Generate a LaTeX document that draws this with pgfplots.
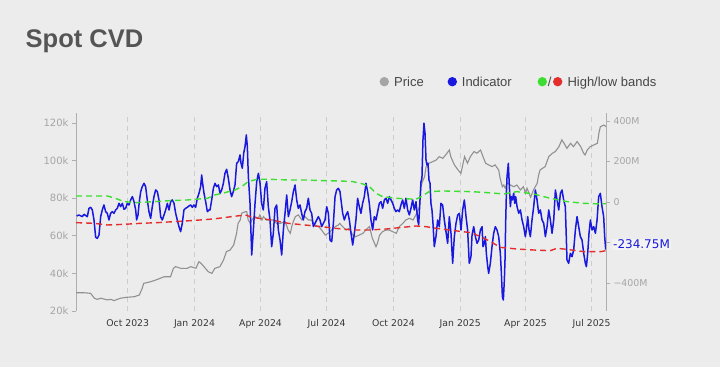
\documentclass[border=0pt]{standalone}
\usepackage{pgfplots}
\pgfplotsset{compat=1.18}
\usepackage{fontspec}
\setmainfont{Liberation Sans}
\newfontfamily\dejavu{DejaVu Sans}
\definecolor{bg}{RGB}{236,236,236}
\definecolor{pricegray}{RGB}{145,145,145}
\definecolor{legray}{RGB}{165,165,165}
\definecolor{indblue}{RGB}{24,24,222}
\definecolor{bandgreen}{RGB}{60,222,50}
\definecolor{bandred}{RGB}{228,45,45}
\definecolor{ticklab}{RGB}{165,165,165}
\definecolor{xlab}{RGB}{55,55,55}
\definecolor{titlec}{RGB}{85,85,85}
\definecolor{legtext}{RGB}{70,70,70}
\definecolor{gridc}{RGB}{205,205,205}
\definecolor{axc}{RGB}{175,175,175}

\pgfplotstableread{
d v
-71 29.7
-60 29.7
-51 29.4
-46 26.8
-42 26.2
-37 26.8
-28 25.9
-23 26.2
-19 25.5
-10 26.8
-1 27.3
9 27.6
16 28.5
20 32.1
22 34.7
32 35.6
41 36.8
50 38.2
59 38.2
63 42.7
66 43.6
73 42.7
82 42.7
87 43.6
94 42.7
98 46.2
101 45.4
105 43.6
111 40.9
116 40.0
120 42.7
127 43.6
132 47.1
136 51.6
141 52.4
146 55.1
150 61.3
152 66.6
155 68.4
157 72.0
162 72.8
164 72.8
166 68.4
169 66.6
171 68.4
175 70.2
180 69.3
182 71.1
185 68.4
187 70.2
191 68.4
196 68.4
201 68.4
205 66.6
210 66.6
217 67.5
221 63.1
224 61.3
226 64.9
228 67.5
231 70.2
235 71.1
240 68.4
244 70.2
249 68.4
253 68.4
258 65.7
263 64.9
267 63.1
272 60.4
276 61.3
281 63.1
286 64.9
290 65.7
292 66.6
296 64.9
301 63.1
305 64.0
310 60.4
314 59.5
319 60.4
324 61.3
328 63.1
333 64.9
337 58.7
342 54.2
344 56.0
347 60.4
351 62.2
356 63.1
360 63.1
365 62.2
370 61.3
374 64.9
379 66.6
383 68.4
388 69.3
393 68.4
397 71.1
402 75.5
404 86.1
406 88.8
409 91.5
411 96.8
415 98.6
420 99.4
425 100.3
429 102.1
434 101.2
438 103.0
443 105.6
445 102.1
450 97.7
455 95.0
459 93.2
464 102.1
468 98.6
472 102.1
477 104.8
481 103.9
486 105.6
490 101.5
493 98.6
497 97.7
502 96.8
506 97.7
511 95.0
513 90.6
516 86.1
518 87.0
520 85.3
523 87.9
527 87.0
532 86.1
536 87.0
541 84.4
545 86.1
548 82.6
550 85.3
555 80.5
559 84.4
564 87.9
566 92.3
568 95.0
575 96.8
580 102.1
585 103.9
589 104.8
594 107.4
598 111.0
601 109.2
605 106.5
610 109.2
614 107.4
619 110.1
624 107.4
628 103.9
630 103.0
633 105.6
637 107.4
642 108.3
647 109.2
649 114.5
651 118.0
656 118.9
659 118.0
}\pricetable

\pgfplotstableread{
d v
-70.3 -69.1
-67.1 -64.2
-62.5 -72.4
-60.2 -60.9
-55.6 -72.4
-53.3 -31.3
-51.0 -26.4
-48.7 -39.5
-46.4 -88.9
-44.1 -174.5
-41.8 -179.4
-39.5 -163.0
-37.2 -72.4
-35.0 -39.5
-32.7 -14.8
-30.4 -47.7
-28.1 -56.0
-25.8 -88.9
-23.5 -56.0
-21.2 -47.7
-18.9 -56.0
-16.6 -39.5
-14.3 -31.3
-12.0 -6.6
-9.7 -23.1
-7.4 -6.6
-5.1 -36.2
-2.8 -31.3
-0.5 -6.6
1.8 -14.8
4.1 9.9
6.4 26.3
8.7 1.6
11.0 -39.5
12.3 -88.9
14.2 -64.2
16.0 1.6
17.9 51.0
20.1 75.7
22.4 92.2
24.7 75.7
27.0 9.9
29.3 -47.7
31.6 -80.7
33.9 -23.1
36.2 26.3
38.5 59.3
40.8 51.0
43.1 9.9
45.4 -72.4
47.7 -88.9
50.0 -64.2
52.3 -39.5
54.6 -6.6
56.9 -39.5
59.2 1.6
61.5 9.9
63.8 -6.6
66.1 -56.0
68.3 -88.9
70.6 -121.8
72.9 -146.5
75.2 -105.4
77.5 -39.5
79.8 -31.3
82.1 -26.4
84.4 -19.8
86.7 -14.8
89.0 -26.4
91.3 -14.8
93.6 -26.4
95.9 18.1
98.2 42.8
100.5 75.7
101.9 133.3
103.2 92.2
105.1 42.8
107.4 1.6
109.7 -47.7
112.0 -39.5
113.4 -39.5
115.7 9.9
118.0 67.5
120.3 92.2
122.6 75.7
124.9 84.0
127.2 42.8
129.5 59.3
131.8 92.2
134.0 141.5
136.3 161.3
138.6 116.9
140.9 59.3
143.2 26.3
145.5 51.0
147.8 84.0
150.1 190.9
152.4 199.2
154.7 232.1
156.1 190.9
157.9 166.2
159.8 240.3
161.6 273.2
163.4 330.8
164.8 273.2
166.2 125.1
168.5 -6.6
170.8 -261.7
173.1 -138.3
175.4 -6.6
177.7 100.4
180.0 141.5
182.3 92.2
184.5 -6.6
186.8 -39.5
189.1 67.5
191.4 100.4
193.7 -23.1
196.0 -88.9
198.3 -220.6
200.6 -154.7
202.9 -31.3
205.2 -14.8
207.5 -138.3
209.8 -187.7
212.1 -261.7
214.4 -138.3
216.7 -56.0
219.0 34.5
221.3 -72.4
223.6 -39.5
225.9 1.6
228.2 51.0
230.5 84.0
232.8 9.9
235.0 -31.3
237.3 -14.8
239.6 -56.0
241.9 -88.9
244.2 -47.7
246.5 -31.3
248.8 18.1
251.1 -39.5
253.4 -56.0
255.7 -121.8
258.0 -105.4
260.3 -88.9
262.6 -72.4
264.9 -88.9
267.2 -121.8
269.5 -105.4
271.8 -88.9
274.1 -23.1
276.4 -56.0
278.7 -187.7
281.0 -195.9
283.3 -105.4
285.6 26.3
287.8 59.3
290.1 67.5
292.4 51.0
296.1 -56.0
298.4 -88.9
300.7 -64.2
303.0 -47.7
305.3 -88.9
307.6 -154.7
309.9 -212.4
312.2 -154.7
314.4 -88.9
316.7 18.1
319.0 -23.1
321.3 -56.0
323.6 -6.6
325.9 26.3
328.2 92.2
330.5 51.0
332.8 -6.6
335.1 -88.9
337.4 -138.3
339.7 -72.4
342.0 -88.9
344.3 -47.7
346.6 -6.6
348.9 1.6
351.2 -31.3
353.5 9.9
355.8 18.1
358.1 -6.6
360.4 26.3
362.7 9.9
365.0 -6.6
367.2 -31.3
369.5 -47.7
371.8 -39.5
374.1 -47.7
376.4 -14.8
378.7 9.9
381.0 -31.3
383.3 18.1
385.6 -39.5
387.9 -64.2
390.2 -31.3
392.5 9.9
394.8 -39.5
397.1 1.6
399.4 -88.9
400.8 -113.6
402.6 9.9
404.0 100.4
405.3 116.9
406.7 306.1
408.1 388.4
409.5 339.1
410.9 207.4
412.2 182.7
413.6 190.9
415.0 108.6
416.4 92.2
417.7 -6.6
419.1 -39.5
420.5 -105.4
422.3 -220.6
424.6 -171.2
426.9 -88.9
429.2 -121.8
431.5 -6.6
433.8 -14.8
436.1 -88.9
438.4 -146.5
440.7 -204.1
443.0 -72.4
445.3 -154.7
447.6 -302.9
449.9 -171.2
452.2 -105.4
454.5 -64.2
456.8 -56.0
459.1 -138.3
461.4 -39.5
463.7 9.9
466.0 -72.4
468.2 -138.3
470.5 -302.9
472.8 -270.0
474.3 -163.0
476.6 -121.8
478.9 -171.2
481.2 -204.1
483.5 -187.7
485.8 -138.3
488.1 -121.8
489.4 -220.6
491.3 -204.1
492.7 -171.2
494.0 -253.5
495.9 -319.3
497.2 -352.3
499.5 -302.9
501.8 -220.6
504.1 -154.7
506.4 -121.8
508.7 -138.3
511.0 -171.2
513.3 -253.5
514.7 -352.3
516.1 -467.5
517.4 -483.9
518.8 -385.2
519.7 -286.4
520.7 -88.9
521.6 42.8
522.5 125.1
524.3 190.9
525.7 75.7
527.1 -23.1
528.5 26.3
529.8 9.9
531.7 42.8
533.1 -6.6
534.4 26.3
536.3 -23.1
538.6 -56.0
540.9 -39.5
543.2 -88.9
545.4 -121.8
547.7 -171.2
549.1 -138.3
551.0 -72.4
552.8 -138.3
554.6 -171.2
556.9 -88.9
559.2 -23.1
561.5 59.3
563.8 9.9
566.1 -56.0
568.4 -39.5
570.7 -88.9
573.0 -105.4
575.3 -171.2
577.6 -121.8
579.9 -39.5
582.2 -88.9
584.5 -154.7
586.8 -88.9
589.1 59.3
591.4 9.9
593.7 -39.5
596.0 42.8
598.2 59.3
600.5 9.9
602.8 -23.1
605.1 -286.4
607.4 -302.9
609.7 -253.5
612.0 -270.0
614.3 -237.0
616.6 -138.3
618.9 -72.4
621.2 -121.8
623.5 -171.2
625.8 -187.7
628.1 -253.5
630.4 -302.9
631.8 -319.3
633.6 -253.5
635.4 -154.7
637.3 -88.9
639.6 -138.3
641.9 -121.8
644.2 -154.7
646.5 -88.9
648.7 26.3
651.0 42.8
653.3 -23.1
655.6 -72.4
657.0 -171.2
658.4 -234.75
}\indtable

\pgfplotstableread{
d v
-71 29.6
-28 29.6
-17 18
-5 1.6
13 -3.3
36 1.6
59 6.6
82 9.9
110 18.1
120 34.5
134 46.1
148 59.3
157 75.7
166 100.4
178 111.9
194 111.9
221 108.6
244 108.6
267 105.3
292 103.7
310 100.4
324 88.9
333 75.7
342 42.8
351 26.3
370 18.1
397 13.2
406 29.6
415 51.0
434 54.3
452 52.7
473 51.0
495 46.1
518 39.5
536 51.0
559 39.5
582 18.1
605 1.6
628 -6.6
651 -9.9
659 -8
}\greentable

\pgfplotstableread{
d v
-71 -102.1
-46 -105.4
-28 -113.6
-5 -110.3
18 -105.4
41 -102.1
64 -97.1
87 -92.2
112 -85.6
125 -80.7
143 -72.4
162 -64.2
169 -72.4
180 -80.7
198 -88.9
221 -105.4
244 -113.6
267 -121.8
286 -130.1
310 -138.3
333 -138.3
356 -133.4
379 -125.1
397 -118.5
411 -121.8
425 -130.1
443 -138.3
461 -146.5
473 -151.4
486 -171.2
500 -195.9
513 -223.9
536 -232.1
559 -237.0
582 -240.3
591 -228.8
605 -233.7
628 -245.3
651 -245.3
659 -240.3
}\redtable

\begin{document}
\begin{tikzpicture}[x=1pt,y=1pt]
\fill[bg] (0,0) rectangle (720,367);
\node[anchor=base west, inner sep=0, text=titlec, font=\bfseries\fontsize{25.5}{28}\selectfont] at (25.5,319) {Spot CVD};
% legend
\fill[legray] (384.3,285.3) circle (4.7);
\node[anchor=base west, inner sep=0, text=legtext, font=\fontsize{13}{15}\selectfont] at (394,280.6) {Price};
\fill[indblue] (452.3,285.3) circle (4.7);
\node[anchor=base west, inner sep=0, text=legtext, font=\fontsize{13}{15}\selectfont] at (461.7,280.6) {Indicator};
\fill[bandgreen] (542.3,285.3) circle (4.7);
\node[anchor=base west, inner sep=0, text=legtext, font=\fontsize{13}{15}\selectfont] at (547.6,280.6) {/};
\fill[bandred] (557.7,285.3) circle (4.7);
\node[anchor=base west, inner sep=0, text=legtext, font=\fontsize{13}{15}\selectfont] at (567.3,280.6) {High/low bands};

\begin{axis}[
  at={(76pt,56pt)}, anchor=south west, scale only axis,
  width=530pt, height=198pt,
  xmin=-71.2, xmax=658.8, ymin=20, ymax=125.3,
  axis y line*=left, axis x line*=bottom,
  x axis line style={draw=none},
  y axis line style={axc, line width=0.8pt},
  xtick={0,92,183,274,366,458,548,639},
  xticklabels={Oct 2023,Jan 2024,Apr 2024,Jul 2024,Oct 2024,Jan 2025,Apr 2025,Jul 2025},
  xtick style={draw=none},
  xmajorgrids=true,
  major grid style={gridc, line width=0.7pt, dash pattern=on 5pt off 4pt},
  ytick={20,40,60,80,100,120},
  yticklabels={20k,40k,60k,80k,100k,120k},
  ytick style={axc, line width=0.7pt},
  tick align=outside, major tick length=4pt,
  xticklabel style={font=\dejavu\fontsize{9.3}{10}\selectfont, text=xlab, yshift=-1pt},
  yticklabel style={font=\dejavu\fontsize{10}{11}\selectfont, text=ticklab},
]
\addplot[pricegray, line width=1.1pt] table[x=d,y=v] {\pricetable};
\end{axis}

\begin{axis}[
  at={(76pt,56pt)}, anchor=south west, scale only axis,
  width=530pt, height=198pt,
  xmin=-71.2, xmax=658.8, ymin=-538, ymax=439,
  axis y line*=right, axis x line=none,
  xtick=\empty,
  y axis line style={axc, line width=0.8pt},
  ytick={-400,-200,0,200,400},
  yticklabels={−400M,{},0,200M,400M},
  ytick style={axc, line width=0.7pt},
  tick align=outside, major tick length=4pt,
  yticklabel style={font=\dejavu\fontsize{9.4}{10}\selectfont, text=ticklab},
  clip mode=individual,
]
\addplot[indblue, line width=1.5pt, line join=round] table[x=d,y=v] {\indtable};
\addplot[bandgreen, line width=1.4pt, dash pattern=on 6pt off 4pt] table[x=d,y=v] {\greentable};
\addplot[bandred, line width=1.4pt, dash pattern=on 6pt off 4pt] table[x=d,y=v] {\redtable};
\node[anchor=base west, inner sep=1pt, fill=white, fill opacity=0.4, text opacity=1, text=indblue, font=\dejavu\fontsize{12}{13}\selectfont, xshift=6pt, yshift=1pt] at (axis cs:658.8,-234.75) {-234.75M};
\end{axis}
\end{tikzpicture}
\end{document}
